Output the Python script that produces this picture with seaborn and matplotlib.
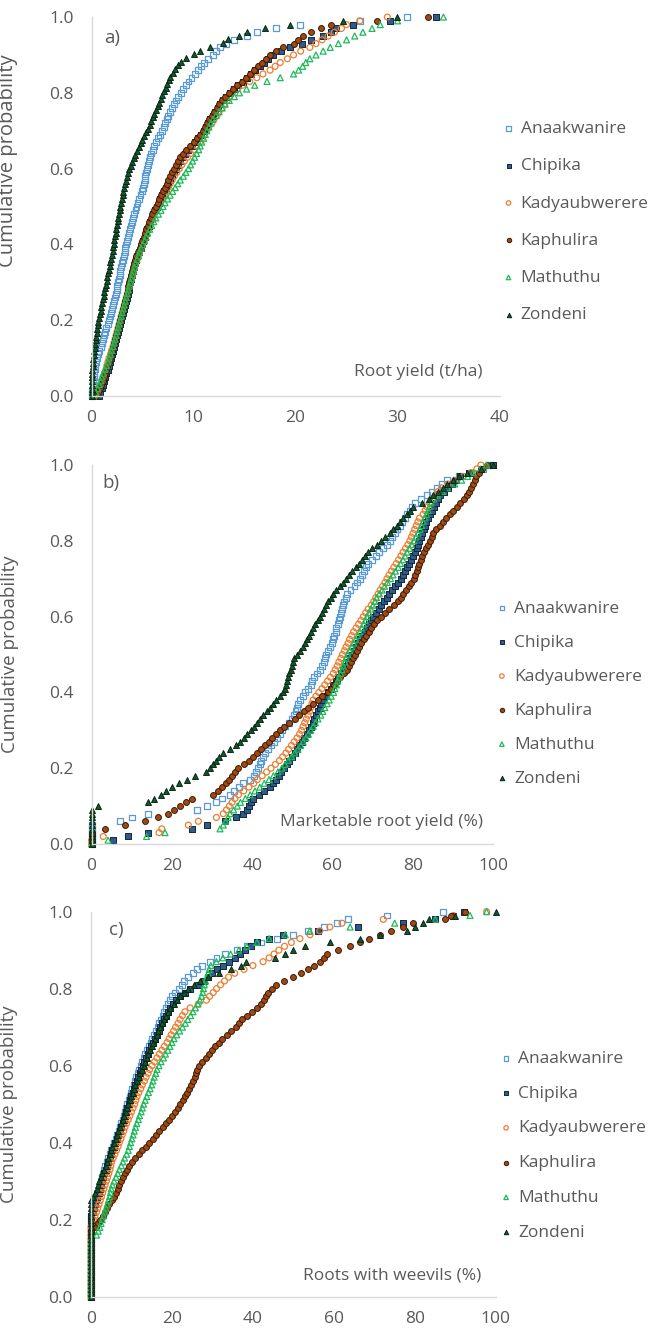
import numpy as np
import pandas as pd
import matplotlib
matplotlib.use("Agg")
import matplotlib.pyplot as plt
import seaborn as sns

# ---------------------------------------------------------------
# Varieties (drawing order: later series sit on top)
# ---------------------------------------------------------------
varieties = ["Anaakwanire", "Chipika", "Kadyaubwerere", "Kaphulira", "Mathuthu", "Zondeni"]

# ---------------------------------------------------------------
# a) Root yield (t/ha) - sorted plot observations per variety
# ---------------------------------------------------------------
a_anaakwanire = [0.05, 0.08, 0.1, 0.12, 0.15, 0.2, 0.25, 0.3, 0.35, 0.45, 0.55, 0.65, 0.75, 0.9,
                 1.0, 1.1, 1.2, 1.3, 1.45, 1.6, 1.7, 1.8, 1.9, 2.0, 2.1, 2.2, 2.3, 2.4, 2.45, 2.5,
                 2.6, 2.7, 2.75, 2.8, 2.9, 3.0, 3.1, 3.2, 3.25, 3.3, 3.4, 3.5, 3.6, 3.7, 3.8, 3.9,
                 4.0, 4.1, 4.2, 4.3, 4.4, 4.5, 4.65, 4.8, 4.9, 5.0, 5.1, 5.2, 5.25, 5.3, 5.4, 5.5,
                 5.6, 5.7, 5.85, 6.0, 6.15, 6.3, 6.5, 6.7, 6.9, 7.1, 7.2, 7.35, 7.5, 7.7, 7.9, 8.1,
                 8.3, 8.5, 8.8, 9.0, 9.3, 9.5, 9.8, 10.1, 10.4, 10.7, 11.0, 11.4, 11.9, 12.2, 12.6,
                 13.2, 14.0, 15.2, 16.2, 18.1, 20.4, 26.3, 30.9]
a_chipika = [0.7, 0.85, 1.0, 1.1, 1.25, 1.35, 1.45, 1.6, 1.7, 1.8, 1.9, 2.0, 2.1, 2.2, 2.3, 2.4,
             2.5, 2.6, 2.7, 2.8, 2.9, 3.0, 3.1, 3.2, 3.3, 3.4, 3.5, 3.6, 3.65, 3.7, 3.8, 3.9, 4.0,
             4.1, 4.2, 4.3, 4.4, 4.5, 4.65, 4.8, 4.9, 5.05, 5.2, 5.3, 5.45, 5.6, 5.75, 5.9, 6.05,
             6.2, 6.4, 6.6, 6.75, 6.9, 7.1, 7.3, 7.5, 7.7, 7.9, 8.1, 8.3, 8.5, 8.7, 8.9, 9.2, 9.5,
             9.8, 10.1, 10.4, 10.7, 11.0, 11.2, 11.4, 11.6, 11.9, 12.1, 12.4, 12.6, 12.9, 13.2,
             13.6, 14.0, 14.4, 14.8, 15.2, 15.6, 16.0, 16.5, 16.9, 17.3, 17.8, 18.6, 19.5, 20.6,
             21.5, 22.7, 23.5, 24.0, 25.6, 29.3, 33.8]
a_kadyaubwerere = [0.3, 0.5, 0.7, 0.85, 1.0, 1.1, 1.25, 1.4, 1.5, 1.6, 1.7, 1.85, 1.95, 2.1, 2.2,
                   2.3, 2.4, 2.5, 2.6, 2.7, 2.8, 2.9, 3.0, 3.1, 3.2, 3.3, 3.4, 3.5, 3.6, 3.7, 3.8,
                   3.9, 4.0, 4.1, 4.2, 4.3, 4.45, 4.6, 4.7, 4.85, 5.0, 5.15, 5.3, 5.4, 5.55, 5.7,
                   5.85, 6.0, 6.15, 6.3, 6.5, 6.7, 6.9, 7.1, 7.3, 7.5, 7.7, 7.9, 8.1, 8.35, 8.6,
                   8.85, 9.1, 9.4, 9.7, 10.0, 10.3, 10.6, 10.8, 11.0, 11.3, 11.5, 11.8, 12.0, 12.3,
                   12.5, 12.8, 13.0, 13.3, 13.5, 13.8, 14.3, 14.8, 15.5, 16.2, 16.8, 17.5, 18.0,
                   18.5, 19.2, 19.8, 20.5, 21.4, 22.0, 22.6, 23.2, 23.8, 24.5, 25.0, 26.3, 29.0]
a_kaphulira = [0.4, 0.6, 0.8, 0.95, 1.1, 1.2, 1.3, 1.45, 1.55, 1.7, 1.8, 1.9, 2.0, 2.1, 2.2, 2.3,
               2.4, 2.5, 2.6, 2.7, 2.8, 2.9, 3.0, 3.1, 3.2, 3.3, 3.4, 3.5, 3.55, 3.6, 3.7, 3.8,
               3.9, 4.0, 4.1, 4.2, 4.3, 4.4, 4.55, 4.7, 4.8, 4.95, 5.1, 5.2, 5.35, 5.5, 5.65, 5.8,
               5.95, 6.1, 6.3, 6.5, 6.65, 6.8, 7.0, 7.2, 7.35, 7.5, 7.7, 7.9, 8.1, 8.3, 8.5, 8.7,
               9.0, 9.3, 9.6, 10.0, 10.3, 10.6, 10.9, 11.1, 11.3, 11.5, 11.8, 12.0, 12.3, 12.5,
               12.8, 13.1, 13.5, 13.9, 14.3, 14.7, 15.1, 15.5, 15.9, 16.3, 16.7, 17.1, 17.5, 18.1,
               18.8, 19.8, 20.2, 20.7, 21.5, 22.5, 23.5, 28.0, 33.0]
a_mathuthu = [0.2, 0.4, 0.6, 0.75, 0.9, 1.0, 1.15, 1.3, 1.45, 1.6, 1.7, 1.85, 1.95, 2.1, 2.2, 2.3,
              2.4, 2.5, 2.6, 2.7, 2.8, 2.9, 3.0, 3.1, 3.2, 3.3, 3.4, 3.5, 3.6, 3.7, 3.8, 3.9, 4.0,
              4.1, 4.2, 4.3, 4.45, 4.6, 4.7, 4.85, 5.0, 5.2, 5.35, 5.5, 5.7, 5.9, 6.1, 6.3, 6.55,
              6.8, 7.0, 7.2, 7.45, 7.7, 7.95, 8.2, 8.45, 8.7, 9.0, 9.25, 9.5, 9.7, 9.9, 10.1,
              10.3, 10.5, 10.65, 10.8, 11.0, 11.15, 11.3, 11.5, 11.7, 11.9, 12.2, 12.5, 12.8,
              13.1, 13.5, 14.0, 14.5, 15.2, 16.0, 17.2, 18.5, 19.8, 20.3, 20.7, 21.0, 21.4, 22.0,
              22.7, 23.4, 24.2, 25.0, 25.8, 26.6, 27.5, 28.3, 30.0, 34.5]
a_zondeni = [0.0, 0.0, 0.0, 0.0, 0.0, 0.02, 0.05, 0.07, 0.1, 0.12, 0.15, 0.2, 0.25, 0.3, 0.35,
             0.4, 0.45, 0.5, 0.55, 0.6, 0.65, 0.72, 0.8, 0.88, 0.95, 1.02, 1.1, 1.18, 1.25, 1.32,
             1.4, 1.48, 1.55, 1.62, 1.7, 1.78, 1.85, 1.92, 2.0, 2.05, 2.1, 2.15, 2.2, 2.28, 2.35,
             2.42, 2.5, 2.55, 2.6, 2.68, 2.75, 2.82, 2.9, 2.98, 3.05, 3.12, 3.2, 3.28, 3.35,
             3.45, 3.55, 3.7, 3.85, 4.0, 4.15, 4.3, 4.45, 4.6, 4.8, 4.95, 5.1, 5.3, 5.5, 5.7,
             5.85, 6.0, 6.15, 6.3, 6.5, 6.65, 6.8, 6.95, 7.1, 7.25, 7.4, 7.55, 7.7, 7.95, 8.2,
             8.5, 8.8, 9.3, 10.0, 10.6, 11.6, 12.9, 13.4, 14.5, 15.2, 17.0, 19.5, 24.7, 29.9]

# ---------------------------------------------------------------
# b) Marketable root yield (%)
# ---------------------------------------------------------------
b_anaakwanire = [0, 0, 0, 0, 0, 0, 7.1, 10, 14.1, 26.2, 28.7, 31.1, 32.5, 34.5, 35.5, 36.8, 37.8,
                 39.5, 40.5, 41.0, 41.5, 41.9, 42.2, 42.8, 43.3, 44.0, 44.8, 45.5, 46.2, 46.9,
                 47.4, 48.3, 49.2, 49.9, 50.4, 50.8, 51.1, 51.5, 51.9, 52.6, 53.2, 53.9, 54.6,
                 55.0, 55.5, 56.2, 56.9, 57.5, 58.0, 58.2, 58.5, 59.0, 59.4, 59.8, 60.1, 60.5,
                 60.8, 61.0, 61.3, 61.6, 61.9, 62.1, 62.4, 62.7, 63.0, 63.3, 63.6, 64.5, 65.5,
                 66.2, 66.9, 67.3, 67.8, 68.3, 68.9, 69.8, 70.8, 71.7, 72.6, 73.5, 74.3, 74.9,
                 75.5, 76.2, 76.8, 77.4, 78.0, 78.6, 79.2, 79.8, 80.5, 82.0, 83.5, 84.7, 86.0,
                 87.2, 88.5, 91.5, 95.0, 97.5, 99.3]
b_chipika = [0, 5.4, 9.1, 14.1, 24.9, 28.7, 33.2, 36.1, 37.8, 38.6, 39.3, 39.8, 40.3, 41.6, 43.0,
             44.4, 45.2, 45.9, 46.6, 47.3, 48.0, 48.6, 49.3, 49.9, 50.6, 51.2, 51.8, 52.4, 53.0,
             53.6, 54.1, 54.6, 55.1, 55.5, 56.0, 56.4, 56.8, 57.2, 57.7, 58.3, 59.0, 59.6, 60.2,
             60.9, 61.5, 62.1, 62.7, 63.2, 63.8, 64.3, 64.8, 65.4, 65.9, 66.4, 66.9, 67.5, 68.0,
             68.6, 69.1, 69.7, 70.2, 70.9, 71.5, 72.2, 72.8, 73.5, 74.2, 74.9, 75.6, 76.3, 77.0,
             77.7, 78.2, 78.6, 79.1, 79.6, 80.1, 80.5, 81.0, 81.4, 81.7, 82.0, 82.3, 82.7, 83.0,
             83.3, 83.7, 84.2, 84.8, 85.3, 85.8, 86.3, 86.8, 87.8, 88.8, 89.8, 90.8, 91.8, 94.0,
             97.0, 100]
b_kadyaubwerere = [0, 0, 2.9, 16.8, 17.5, 24.1, 26.6, 31.1, 32.8, 33.6, 34.3, 35.0, 35.7, 36.6,
                   37.9, 39.2, 40.4, 41.3, 42.5, 43.6, 44.7, 45.8, 46.8, 47.6, 48.4, 49.1, 49.8,
                   50.5, 51.2, 51.8, 52.3, 52.7, 53.1, 53.5, 53.9, 54.3, 54.6, 54.9, 55.2, 55.9,
                   56.6, 57.4, 58.1, 58.8, 59.5, 60.2, 60.7, 61.2, 61.6, 62.1, 62.5, 63.0, 63.4,
                   63.9, 64.3, 64.8, 65.3, 65.9, 66.5, 67.1, 67.7, 68.3, 68.9, 69.7, 70.3, 70.8,
                   71.4, 71.9, 72.5, 73.1, 73.6, 74.1, 74.7, 75.3, 75.9, 76.5, 77.1, 77.6, 78.2,
                   78.8, 79.3, 79.7, 80.1, 80.5, 80.9, 81.3, 81.7, 82.6, 83.1, 83.5, 84.2, 84.9,
                   85.6, 86.3, 87.2, 88.8, 90.5, 92.6, 94.5, 96.0, 97.0]
b_kaphulira = [0, 0, 0, 0, 3.3, 8.3, 13.3, 16.5, 19.1, 20.5, 22.0, 23.5, 24.9, 30.3, 31.5, 32.6,
               33.5, 34.3, 35.0, 35.8, 36.6, 37.9, 39.1, 40.3, 41.3, 42.2, 43.2, 44.1, 45.0,
               46.0, 47.0, 48.0, 49.3, 50.6, 51.8, 53.0, 54.0, 55.1, 56.3, 57.5, 58.8, 59.6,
               60.4, 61.2, 62.0, 62.8, 63.6, 64.1, 64.6, 65.1, 65.6, 66.1, 66.6, 67.1, 67.8,
               68.4, 69.1, 69.7, 70.4, 71.0, 72.0, 73.1, 74.2, 75.4, 76.3, 77.0, 77.7, 78.3,
               79.0, 79.7, 80.4, 80.7, 81.0, 81.3, 81.6, 82.0, 82.4, 82.7, 83.2, 83.7, 84.2,
               84.7, 85.1, 85.9, 86.8, 87.6, 88.4, 89.3, 90.1, 91.0, 91.9, 92.9, 93.5, 94.0,
               94.5, 95.0, 95.5, 95.9, 96.6, 97.4, 98.5]
b_mathuthu = [0, 4.1, 13.7, 18.3, 32.0, 32.8, 33.4, 34.0, 34.5, 35.4, 36.3, 37.1, 38.3, 39.5,
              40.7, 41.9, 43.0, 44.2, 45.3, 46.4, 47.4, 48.2, 49.0, 49.8, 50.6, 51.4, 52.1, 52.7,
              53.4, 54.0, 54.6, 55.2, 55.8, 56.4, 57.1, 57.6, 58.1, 58.7, 59.2, 59.7, 60.3, 60.6,
              61.0, 61.3, 61.7, 62.0, 62.4, 62.7, 63.1, 63.4, 63.8, 64.3, 64.8, 65.3, 65.8, 66.3,
              66.8, 67.3, 67.8, 68.2, 68.6, 69.1, 69.6, 70.1, 70.6, 71.0, 71.7, 72.4, 73.0, 73.7,
              74.5, 75.1, 75.7, 76.4, 77.0, 77.6, 78.1, 78.6, 79.2, 79.7, 80.3, 80.8, 81.3, 81.8,
              82.2, 82.6, 83.0, 83.4, 83.8, 84.2, 84.6, 85.3, 86.2, 87.4, 88.7, 90.5, 92.2, 93.7,
              95.1, 97.0, 98.4]
b_zondeni = [0, 0, 0, 0, 0, 0, 0, 0, 0, 0, 1.6, 14.1, 15.5, 17.4, 18.6, 20.1, 21.9, 23.8, 25.7,
             28.6, 29.5, 30.2, 30.9, 31.7, 32.8, 34.5, 36.1, 37.0, 37.9, 38.8, 39.6, 40.4, 41.2,
             42.0, 42.8, 43.6, 44.4, 45.2, 46.0, 46.9, 47.7, 48.1, 48.4, 48.7, 49.0, 49.3, 49.6,
             49.9, 50.1, 50.5, 51.3, 52.0, 52.6, 53.2, 53.7, 54.2, 54.6, 55.1, 55.7, 56.3, 56.8,
             57.3, 57.8, 58.4, 59.0, 59.6, 60.2, 61.0, 61.8, 62.6, 63.4, 64.2, 65.0, 65.8, 66.6,
             67.3, 68.0, 68.8, 69.9, 71.0, 72.1, 73.2, 74.3, 75.2, 76.0, 76.8, 77.6, 78.5, 79.3,
             80.1, 82.3, 84.0, 85.0, 86.3, 87.5, 88.5, 90.0, 91.5, 93.5, 97.0, 100]

# ---------------------------------------------------------------
# c) Roots with weevils (%)
# ---------------------------------------------------------------
c_anaakwanire = [0, 0, 0, 0, 0, 0, 0, 0, 0, 0, 0, 0, 0, 0, 0, 0, 0, 0, 0, 0, 0, 0, 0.3, 0.6, 0.9,
                 1.1, 1.3, 1.6, 1.9, 2.2, 2.4, 2.6, 2.9, 3.2, 3.5, 3.9, 4.3, 4.6, 5.0, 5.4, 5.7,
                 6.1, 6.5, 6.9, 7.2, 7.5, 7.8, 8.1, 8.4, 8.7, 9.0, 9.3, 9.6, 9.9, 10.2, 10.6,
                 10.9, 11.2, 11.5, 11.9, 12.3, 12.7, 13.0, 13.4, 13.8, 14.3, 14.7, 15.1, 15.6,
                 16.0, 16.5, 16.9, 17.3, 17.7, 18.1, 18.6, 19.0, 19.5, 20.0, 20.8, 21.8, 22.4,
                 23.0, 24.0, 25.3, 26.2, 27.5, 29.4, 31.0, 33.0, 36.0, 38.5, 42.0, 46.0, 50.0,
                 53.5, 57.5, 60.7, 63.5, 73.0, 87.0]
c_chipika = [0, 0, 0, 0, 0, 0, 0, 0, 0, 0, 0, 0, 0, 0, 0, 0, 0, 0, 0, 0, 0, 0, 0.5, 0.8, 1.1, 1.3,
             1.6, 1.9, 2.2, 2.5, 2.8, 3.0, 3.3, 3.6, 3.9, 4.3, 4.6, 5.0, 5.3, 5.7, 6.0, 6.4, 6.7,
             7.1, 7.4, 7.8, 8.1, 8.4, 8.7, 9.0, 9.3, 9.6, 9.9, 10.3, 10.6, 11.0, 11.3, 11.7, 12.0,
             12.4, 12.8, 13.2, 13.6, 14.0, 14.4, 14.9, 15.3, 15.8, 16.2, 16.7, 17.1, 17.6, 18.0,
             18.5, 19.0, 19.6, 20.3, 21.1, 22.0, 23.2, 24.5, 26.5, 28.0, 29.0, 30.0, 31.2, 32.5,
             34.0, 35.5, 36.8, 38.0, 39.5, 41.0, 44.0, 47.5, 56.0, 66.0, 77.0, 85.0, 89.5, 92.0]
c_kadyaubwerere = [0, 0, 0, 0, 0, 0, 0, 0, 0, 0, 0, 0, 0, 0, 0, 0, 0, 0, 0, 0.3, 0.6, 1.0, 1.4,
                   1.7, 2.0, 2.3, 2.6, 2.9, 3.2, 3.5, 3.8, 4.1, 4.4, 4.7, 4.9, 5.1, 5.5, 5.9, 6.3,
                   6.7, 7.0, 7.4, 7.7, 8.1, 8.4, 8.8, 9.2, 9.6, 10.0, 10.4, 10.8, 11.1, 11.4,
                   11.8, 12.3, 12.7, 13.2, 13.6, 14.1, 14.5, 15.1, 15.7, 16.3, 16.9, 17.5, 18.1,
                   18.8, 19.3, 19.8, 20.4, 20.9, 21.5, 22.0, 22.6, 23.2, 24.5, 26.5, 28.5, 29.3,
                   30.2, 31.0, 32.0, 33.0, 34.0, 35.5, 37.8, 40.0, 42.5, 44.0, 45.2, 46.4, 47.8,
                   49.5, 51.6, 54.1, 56.5, 59.0, 62.0, 72.2, 89.5, 97.7]
c_kaphulira = [0, 0, 0, 0, 0, 0, 0, 0, 0, 0, 0, 0, 0, 0, 0, 0, 0, 0, 1.2, 1.8, 2.3, 2.9, 3.4,
               4.0, 4.5, 5.1, 5.6, 6.1, 6.6, 7.0, 7.5, 7.9, 8.4, 8.8, 9.4, 10.2, 11.0, 11.9,
               12.7, 13.6, 14.4, 15.3, 16.1, 16.9, 17.7, 18.6, 19.3, 20.0, 20.7, 21.4, 22.1,
               22.8, 23.3, 23.8, 24.3, 24.8, 25.2, 25.6, 26.0, 26.3, 26.7, 27.5, 28.3, 29.1,
               29.9, 30.7, 31.5, 32.3, 33.5, 34.7, 35.8, 36.6, 37.3, 38.5, 39.8, 41.0, 42.0,
               42.8, 43.3, 43.8, 44.6, 45.6, 47.6, 49.8, 51.8, 53.5, 55.0, 56.5, 57.5, 58.3,
               61.0, 64.0, 66.5, 68.6, 71.5, 74.0, 77.0, 79.6, 87.4, 89.0, 92.3]
c_mathuthu = [0, 0, 0, 0, 0, 0, 0, 0, 0, 0, 0, 0, 0, 0, 0, 0, 1.4, 1.8, 2.2, 2.5, 2.8, 3.1, 3.4,
              3.7, 4.0, 4.3, 4.6, 4.8, 5.0, 5.3, 5.7, 6.2, 6.6, 7.0, 7.5, 7.9, 8.3, 8.8, 9.2, 9.5,
              9.8, 10.1, 10.4, 10.7, 11.0, 11.3, 11.7, 12.0, 12.4, 12.7, 13.0, 13.4, 13.8, 14.2,
              14.6, 15.0, 15.3, 15.6, 16.0, 16.3, 16.8, 17.3, 17.9, 18.4, 19.0, 19.5, 20.0, 20.5,
              21.2, 21.9, 22.6, 23.3, 23.9, 24.6, 25.2, 25.8, 26.4, 26.9, 27.3, 27.6, 27.8, 28.0,
              28.3, 28.6, 28.9, 29.2, 29.6, 31.0, 32.6, 34.5, 36.5, 38.5, 41.0, 44.0, 48.0, 54.0,
              64.0, 75.0, 85.0, 93.6, 97.7]
c_zondeni = [0, 0, 0, 0, 0, 0, 0, 0, 0, 0, 0, 0, 0, 0, 0, 0, 0, 0, 0, 0, 0, 0, 0, 0, 0, 0, 0.4,
             0.9, 1.4, 1.8, 2.1, 2.4, 2.8, 3.2, 3.6, 4.0, 4.3, 4.6, 5.0, 5.3, 5.7, 6.1, 6.4, 6.8,
             7.2, 7.5, 7.9, 8.2, 8.6, 8.9, 9.2, 9.6, 10.0, 10.3, 10.7, 11.0, 11.4, 11.8, 12.2,
             12.6, 13.0, 13.4, 13.8, 14.2, 14.6, 15.0, 15.4, 15.8, 16.2, 16.6, 17.1, 17.6, 18.0,
             18.5, 19.0, 19.6, 20.4, 21.2, 22.0, 23.0, 24.0, 25.5, 27.0, 29.0, 31.5, 34.5, 37.0,
             38.4, 45.4, 48.0, 50.0, 52.8, 59.0, 66.4, 71.4, 78.0, 80.0, 82.0, 83.5, 90.0, 100]

# Axis ticks and panel texts
a_xticks = [0, 10, 20, 30, 40]
bc_xticks = [0, 20, 40, 60, 80, 100]
y_ticks = [0.0, 0.2, 0.4, 0.6, 0.8, 1.0]
panel_tags = ["a)", "b)", "c)"]
panel_titles = ["Root yield (t/ha)", "Marketable root yield (%)", "Roots with weevils (%)"]
y_title = "Cumulative probability"

# ---------------------------------------------------------------
# Long-form table of empirical cumulative probabilities
# ---------------------------------------------------------------
panel_series = {
    "a": [a_anaakwanire, a_chipika, a_kadyaubwerere, a_kaphulira, a_mathuthu, a_zondeni],
    "b": [b_anaakwanire, b_chipika, b_kadyaubwerere, b_kaphulira, b_mathuthu, b_zondeni],
    "c": [c_anaakwanire, c_chipika, c_kadyaubwerere, c_kaphulira, c_mathuthu, c_zondeni],
}
rows = []
for panel, series in panel_series.items():
    for name, values in zip(varieties, series):
        v = np.sort(np.asarray(values, dtype=float))
        prob = np.arange(len(v)) / (len(v) - 1)
        for xv, pv in zip(v, prob):
            rows.append((panel, name, xv, pv))
df = pd.DataFrame(rows, columns=["panel", "variety", "value", "prob"])

# ---------------------------------------------------------------
# Styling
# ---------------------------------------------------------------
sns.set_theme(style="white")
plt.rcParams["font.family"] = ["Open Sans", "DejaVu Sans"]
TEXT = "#595959"
GRID = "#D9D9D9"
FS = 12.5

marker_style = {
    "Anaakwanire":   dict(marker="s", facecolor="none",    edgecolor="#5B9BD5", linewidth=0.9),
    "Chipika":       dict(marker="s", facecolor="#2E5C8A", edgecolor="#15263A", linewidth=0.7),
    "Kadyaubwerere": dict(marker="o", facecolor="none",    edgecolor="#ED7D31", linewidth=0.9),
    "Kaphulira":     dict(marker="o", facecolor="#A04A12", edgecolor="#3A1A06", linewidth=0.7),
    "Mathuthu":      dict(marker="^", facecolor="none",    edgecolor="#1DBA5A", linewidth=0.9),
    "Zondeni":       dict(marker="^", facecolor="#0F5A2C", edgecolor="#0A2413", linewidth=0.7),
}

fig = plt.figure(figsize=(6.59, 13.34), dpi=100)
axes_rects = [
    [0.139, 0.7031, 0.619, 0.2841],
    [0.139, 0.3673, 0.609, 0.2841],
    [0.138, 0.0280, 0.6145, 0.2886],
]
xlims = [(0, 40), (0, 100), (0, 100)]
xticks = [a_xticks, bc_xticks, bc_xticks]
tag_pos = [(2.0, 0.945), (4.8, 0.952), (6.2, 0.952)]
title_pos = [(38.3, 0.063), (97.6, 0.058), (96.4, 0.054)]
legend_anchor = [(1.005, 0.459), (1.005, 0.397), (1.008, 0.392)]
legend_spacing = [1.215, 1.03, 1.07]
ylabel_y = [0.62, 0.50, 0.50]
ylabel_fs = [14.5, 13.5, 13.5]

for i, panel in enumerate(["a", "b", "c"]):
    ax = fig.add_axes(axes_rects[i])
    sub = df[df["panel"] == panel]
    for name in varieties:
        d = sub[sub["variety"] == name]
        st = marker_style[name]
        sns.scatterplot(data=d, x="value", y="prob", ax=ax, s=18, clip_on=False,
                        label=name, legend=False, **st)

    ax.set_xlim(*xlims[i])
    ax.set_ylim(0, 1)
    ax.set_xticks(xticks[i])
    ax.set_yticks(y_ticks)
    ax.set_yticklabels([f"{t:.1f}" for t in y_ticks])
    ax.set_xlabel("")
    ax.set_ylabel(y_title, color=TEXT, fontsize=ylabel_fs[i])
    ax.yaxis.set_label_coords(-0.18, ylabel_y[i])

    for side in ["top", "right"]:
        ax.spines[side].set_visible(False)
    for side in ["left", "bottom"]:
        ax.spines[side].set_color(GRID)
        ax.spines[side].set_linewidth(1.0)
    ax.tick_params(axis="both", colors=GRID, labelcolor=TEXT, labelsize=FS,
                   direction="out", length=4, width=1.0)
    ax.tick_params(axis="y", pad=9)
    ax.tick_params(axis="x", pad=6)
    ax.set_facecolor("white")

    ax.text(*tag_pos[i], panel_tags[i], color=TEXT, fontsize=13.5, ha="center", va="center")
    ax.text(*title_pos[i], panel_titles[i], color=TEXT, fontsize=FS, ha="right", va="center")

    leg = ax.legend(loc="center left", bbox_to_anchor=legend_anchor[i], frameon=False,
                    handletextpad=0.3, handlelength=0.8, borderpad=0, borderaxespad=0,
                    labelspacing=legend_spacing[i], markerscale=0.75, fontsize=FS)
    for t in leg.get_texts():
        t.set_color(TEXT)

fig.savefig("out.png", dpi=100, facecolor="white")
